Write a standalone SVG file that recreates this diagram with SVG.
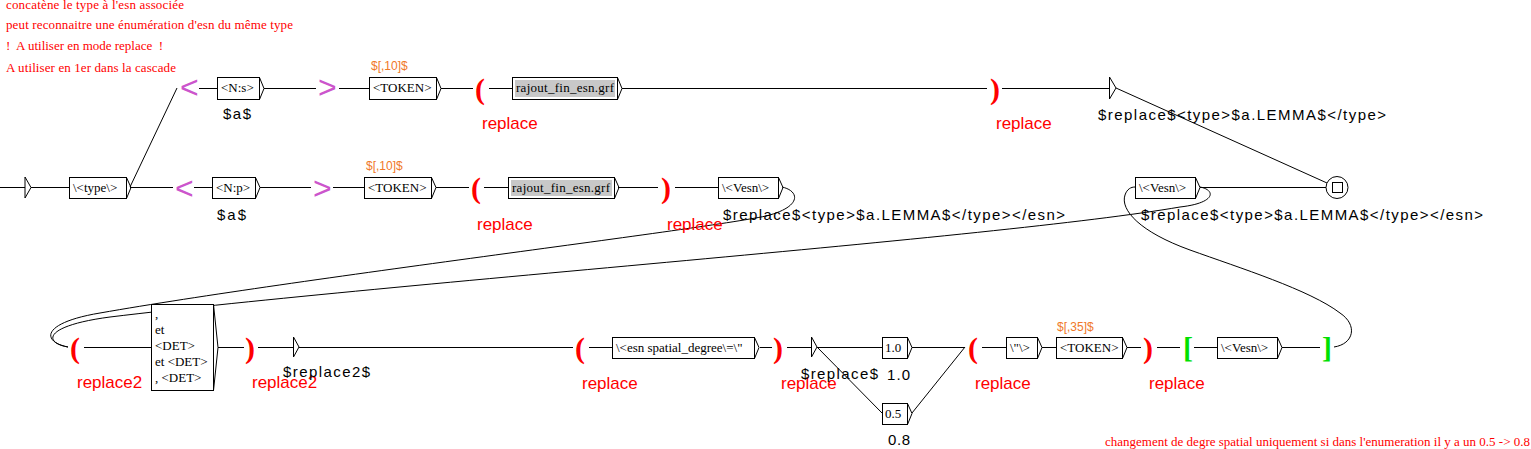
<svg xmlns="http://www.w3.org/2000/svg" width="1531" height="449" viewBox="0 0 1531 449">
<style>
.bg{fill:#fff}
.box{fill:#fff;stroke:#000;stroke-width:1}
.gbox{fill:#c8c8c8;stroke:none}
.ar{fill:none;stroke:#000;stroke-width:1}
.ln{fill:none;stroke:#000;stroke-width:1}
.bt{font-family:"Liberation Serif",serif;font-size:13px;fill:#000}
.out{font-family:"Liberation Sans",Arial,sans-serif;font-size:15px;fill:#000}
.rep{font-family:"Liberation Sans",Arial,sans-serif;font-size:17px;fill:#f00}
.par{font-family:"Liberation Serif",serif;font-weight:bold;font-size:30px;fill:#f00}
.grn{font-family:"Liberation Serif",serif;font-weight:bold;font-size:30px;fill:#00e000}
.ctx{font-family:"Liberation Sans",Arial,sans-serif;font-size:32px;fill:#cc55cc}
.var{font-family:"Liberation Sans",Arial,sans-serif;font-size:12px;fill:#f07828}
.cmt{font-family:"Liberation Serif",serif;font-size:13px;fill:#f00;white-space:pre}
</style>
<rect class="bg" x="0" y="0" width="1531" height="449"/>

<g id="comments">
<text class="cmt" x="6" y="9" textLength="178">concatène le type à l'esn associée</text>
<text class="cmt" x="6" y="29" textLength="287">peut reconnaitre une énumération d'esn du même type</text>
<text class="cmt" x="6" y="50" textLength="157" xml:space="preserve">!  A utiliser en mode replace  !</text>
<text class="cmt" x="6" y="72" textLength="170">A utiliser en 1er dans la cascade</text>
<text class="cmt" x="1105" y="446" textLength="425">changement de degre spatial uniquement si dans l'enumeration il y a un 0.5 -&gt; 0.8</text>
</g>

<g id="connectors">
<path class="ln" d="M199 88.5H217M264 88.5H316M339 88.5H369M441 88.5H473M489 88.5H512M622 88.5H987M1002 88.5H1109"/>
<path class="ln" d="M1116 88 L1327 183"/>
<path class="ln" d="M0 187.5H25M31 187.5H69M130 187.5H173M194 187.5H212M260 187.5H311M333 187.5H364M436 187.5H469M484 187.5H508M618 187.5H658M675 187.5H718M1200 187.5H1326"/>
<path class="ln" d="M130 187 L177 88"/>
<path class="ln" d="M782 187 C800 191 802 207 766 216 C700 230 300 278 100 313 C40 323 42 342 68 347"/>
<path class="ln" d="M1200 187 C1216 190 1216 203 1180 207 C1000 238 400 282 110 317 C42 326 44 343 68 347"/>
<path class="ln" d="M1334 347 C1354 344 1358 325 1340 313 C1310 290 1240 268 1190 250 C1140 232 1120 210 1125 195 C1127 189 1131 187 1135 187"/>
<path class="ln" d="M84 347.5H151M218 347.5H244M258 347.5H293M299 347.5H573M589 347.5H612M760 347.5H772M787 347.5H811M817 347.5H882M912 347.5H965M982 347.5H1006M1042 347.5H1056M1127 347.5H1141M1157 347.5H1180M1194 347.5H1217M1282 347.5H1320"/>
<path class="ln" d="M817 347 L882 413M912 413 L965 347"/>
</g>

<g id="init">
<polygon class="ar" points="25,177 25,198 31,187.5"/>
</g>

<g id="n_type">
<rect class="box" x="69.5" y="177.5" width="57" height="21"/>
<polyline class="ar" points="126.5,177.5 131,187.5 126.5,198.5"/>
<text class="bt" x="73" y="192">\&lt;type\&gt;</text>
</g>

<g id="ctx_open_top"><text class="ctx" x="180" y="98">&lt;</text></g>
<g id="n_Ns">
<rect class="box" x="217.5" y="77.5" width="42" height="22"/>
<polyline class="ar" points="259.5,77.5 264,88.5 259.5,99.5"/>
<text class="bt" x="221" y="92">&lt;N:s&gt;</text>
<text class="out" x="223" y="119" textLength="28">$a$</text>
</g>
<g id="ctx_close_top"><text class="ctx" x="318" y="98">&gt;</text></g>
<g id="n_token_top">
<rect class="box" x="369.5" y="77.5" width="67" height="22"/>
<polyline class="ar" points="436.5,77.5 441,88.5 436.5,99.5"/>
<text class="bt" x="373" y="92">&lt;TOKEN&gt;</text>
<text class="var" x="371" y="70">$[,10]$</text>
</g>
<g id="p_open_top">
<text class="par" x="475" y="98.5">(</text>
<text class="rep" x="482" y="129">replace</text>
</g>
<g id="n_graph_top">
<rect class="box" x="512.5" y="77.5" width="105" height="22"/>
<rect class="gbox" x="515" y="80" width="100" height="17"/>
<polyline class="ar" points="617.5,77.5 622,88.5 617.5,99.5"/>
<text class="bt" x="516" y="92" textLength="98">rajout_fin_esn.grf</text>
</g>
<g id="p_close_top">
<text class="par" x="990" y="98.5">)</text>
<text class="rep" x="996" y="129">replace</text>
</g>
<g id="n_out_top">
<polygon class="ar" points="1109.5,77 1109.5,99 1116,88"/>
<text class="out" x="1098" y="120" textLength="288">$replace$&lt;type&gt;$a.LEMMA$&lt;/type&gt;</text>
</g>

<g id="ctx_open_mid"><text class="ctx" x="175" y="199">&lt;</text></g>
<g id="n_Np">
<rect class="box" x="212.5" y="177.5" width="43" height="21"/>
<polyline class="ar" points="255.5,177.5 260,187.5 255.5,198.5"/>
<text class="bt" x="216" y="192">&lt;N:p&gt;</text>
<text class="out" x="217" y="220" textLength="29">$a$</text>
</g>
<g id="ctx_close_mid"><text class="ctx" x="313" y="199">&gt;</text></g>
<g id="n_token_mid">
<rect class="box" x="364.5" y="177.5" width="67" height="21"/>
<polyline class="ar" points="431.5,177.5 436,187.5 431.5,198.5"/>
<text class="bt" x="368" y="192">&lt;TOKEN&gt;</text>
<text class="var" x="366" y="170">$[,10]$</text>
</g>
<g id="p_open_mid">
<text class="par" x="471" y="197.5">(</text>
<text class="rep" x="477" y="230">replace</text>
</g>
<g id="n_graph_mid">
<rect class="box" x="508.5" y="177.5" width="106" height="21"/>
<rect class="gbox" x="511" y="180" width="101" height="16"/>
<polyline class="ar" points="614.5,177.5 619,187.5 614.5,198.5"/>
<text class="bt" x="512" y="192" textLength="98">rajout_fin_esn.grf</text>
</g>
<g id="p_close_mid">
<text class="par" x="661" y="197.5">)</text>
<text class="rep" x="667" y="230">replace</text>
</g>
<g id="n_vesn_mid">
<rect class="box" x="718.5" y="177.5" width="60" height="21"/>
<polyline class="ar" points="778.5,177.5 783,187.5 778.5,198.5"/>
<text class="bt" x="722" y="192">\&lt;Vesn\&gt;</text>
<text class="out" x="723" y="220" textLength="342">$replace$&lt;type&gt;$a.LEMMA$&lt;/type&gt;&lt;/esn&gt;</text>
</g>
<g id="n_vesn_right">
<rect class="box" x="1135.5" y="177.5" width="60" height="21"/>
<polyline class="ar" points="1195.5,177.5 1200,187.5 1195.5,198.5"/>
<text class="bt" x="1139" y="192">\&lt;Vesn\&gt;</text>
<text class="out" x="1141" y="220" textLength="342">$replace$&lt;type&gt;$a.LEMMA$&lt;/type&gt;&lt;/esn&gt;</text>
</g>
<g id="final">
<circle cx="1337" cy="187.5" r="11" fill="#fff" stroke="#000"/>
<rect x="1332.5" y="182.5" width="10" height="10" fill="none" stroke="#000"/>
</g>

<g id="p_open_r2">
<text class="par" x="70" y="357.5">(</text>
<text class="rep" x="77" y="388">replace2</text>
</g>
<g id="n_enum">
<rect class="box" x="151.5" y="304.5" width="62" height="86"/>
<polyline class="ar" points="213.5,304.5 218,347.5 213.5,390.5"/>
<text class="bt" x="155" y="318">,</text>
<text class="bt" x="155" y="334">et</text>
<text class="bt" x="155" y="350">&lt;DET&gt;</text>
<text class="bt" x="155" y="366">et &lt;DET&gt;</text>
<text class="bt" x="155" y="382">, &lt;DET&gt;</text>
</g>
<g id="p_close_r2">
<text class="par" x="245" y="357.5">)</text>
<text class="rep" x="252" y="388">replace2</text>
</g>
<g id="n_out_r2">
<polygon class="ar" points="293.5,337 293.5,357 299,347"/>
<text class="out" x="283" y="377" textLength="87">$replace2$</text>
</g>
<g id="p_open_b1">
<text class="par" x="575" y="357.5">(</text>
<text class="rep" x="582" y="389">replace</text>
</g>
<g id="n_esn">
<rect class="box" x="612.5" y="337.5" width="142" height="21"/>
<polyline class="ar" points="754.5,337.5 759,347.5 754.5,358.5"/>
<text class="bt" x="616" y="352">\&lt;esn spatial_degree\=\"</text>
</g>
<g id="p_close_b1">
<text class="par" x="773" y="357.5">)</text>
<text class="rep" x="781" y="389">replace</text>
</g>
<g id="n_out_b1">
<polygon class="ar" points="811.5,337 811.5,357 817,347"/>
<text class="out" x="801" y="379" textLength="77">$replace$</text>
</g>
<g id="n_10">
<rect class="box" x="882.5" y="337.5" width="25" height="21"/>
<polyline class="ar" points="907.5,337.5 912,347.5 907.5,358.5"/>
<text class="bt" x="885" y="352">1.0</text>
<text class="out" x="887" y="380" textLength="23">1.0</text>
</g>
<g id="n_05">
<rect class="box" x="882.5" y="403.5" width="25" height="21"/>
<polyline class="ar" points="907.5,403.5 912,413.5 907.5,424.5"/>
<text class="bt" x="885" y="418">0.5</text>
<text class="out" x="888" y="445" textLength="22">0.8</text>
</g>
<g id="p_open_b2">
<text class="par" x="968" y="357.5">(</text>
<text class="rep" x="975" y="389">replace</text>
</g>
<g id="n_quote">
<rect class="box" x="1006.5" y="337.5" width="31" height="21"/>
<polyline class="ar" points="1037.5,337.5 1042,347.5 1037.5,358.5"/>
<text class="bt" x="1010" y="352">\"\&gt;</text>
</g>
<g id="n_token_b">
<rect class="box" x="1056.5" y="337.5" width="66" height="21"/>
<polyline class="ar" points="1122.5,337.5 1127,347.5 1122.5,358.5"/>
<text class="bt" x="1060" y="352">&lt;TOKEN&gt;</text>
<text class="var" x="1057" y="331">$[,35]$</text>
</g>
<g id="p_close_b2">
<text class="par" x="1143" y="357.5">)</text>
<text class="rep" x="1149" y="389">replace</text>
</g>
<g id="br_open"><text class="grn" x="1183" y="357.5">[</text></g>
<g id="n_vesn_b">
<rect class="box" x="1217.5" y="337.5" width="60" height="21"/>
<polyline class="ar" points="1277.5,337.5 1282,347.5 1277.5,358.5"/>
<text class="bt" x="1221" y="352">\&lt;Vesn\&gt;</text>
</g>
<g id="br_close"><text class="grn" x="1322" y="357.5">]</text></g>
</svg>
